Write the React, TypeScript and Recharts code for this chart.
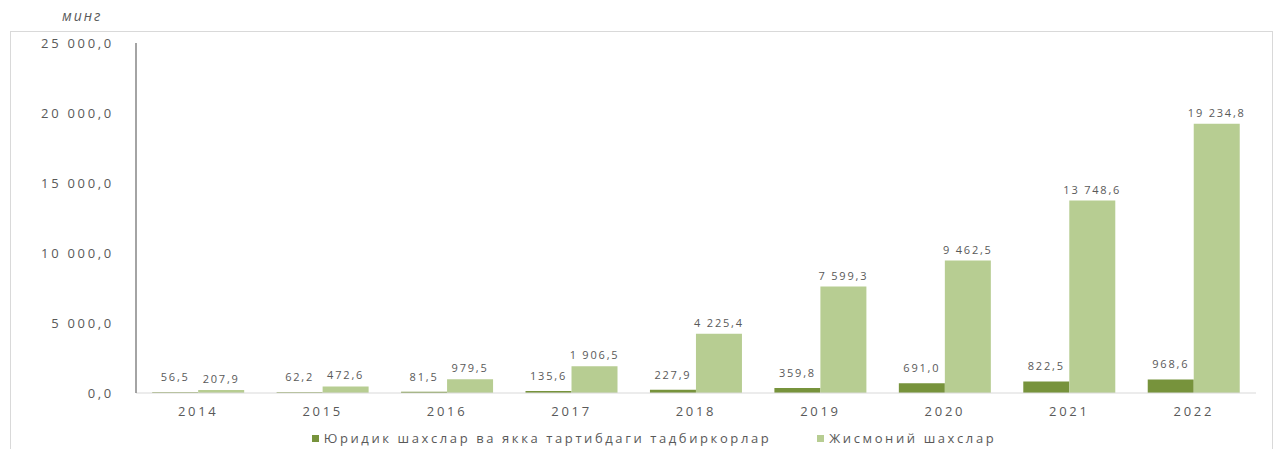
import { BarChart, Bar, XAxis, YAxis, Legend, LabelList } from "recharts"

const years = ["2014", "2015", "2016", "2017", "2018", "2019", "2020", "2021", "2022"]
const legalEntities = [56.5, 62.2, 81.5, 135.6, 227.9, 359.8, 691.0, 822.5, 968.6]
const individuals = [207.9, 472.6, 979.5, 1906.5, 4225.4, 7599.3, 9462.5, 13748.6, 19234.8]
const yTicks = [0, 5000, 10000, 15000, 20000, 25000]

const seriesNames = ["Юридик шахслар ва якка тартибдаги тадбиркорлар", "Жисмоний шахслар"]
const DARK = "#77933C"
const LIGHT = "#B7CD92"
const TEXT = "#595959"
const FONT = "'Open Sans', sans-serif"

const data = years.map((year, i) => ({ year, legal: legalEntities[i], people: individuals[i] }))

// 19234.8 -> "19 234,8" (non-breaking space so labels don't wrap)
const fmt = (v: number) => {
  const [int, dec] = Number(v).toFixed(1).split(".")
  return int.replace(/\B(?=(\d{3})+(?!\d))/g, "\u00A0") + "," + dec
}

const tickStyle = { fontSize: 13, fill: TEXT, fontFamily: FONT, letterSpacing: 2.7 }
const labelStyle = { fontSize: 11, fill: TEXT, fontFamily: FONT, letterSpacing: 1.8 }

function LegendContent() {
  return (
    <div style={{ display: "flex", justifyContent: "center", gap: 46, fontFamily: FONT, fontSize: 13, letterSpacing: 2.6, color: TEXT, paddingTop: 6, paddingLeft: 52 }}>
      {seriesNames.map((name, i) => (
        <div key={name} style={{ display: "flex", alignItems: "center", gap: 5 }}>
          <div style={{ width: 7, height: 7, backgroundColor: i === 0 ? DARK : LIGHT }} />
          <span>{name}</span>
        </div>
      ))}
    </div>
  )
}

export default function App() {
  return (
    <div style={{ position: "absolute", left: 0, top: 0, width: 1277, height: 449, background: "#fff", overflow: "hidden" }}>
      {/* frame */}
      <div style={{ position: "absolute", left: 10, top: 31, width: 1261, height: 430, borderTop: "1px solid #D9D9D9", borderLeft: "1px solid #D9D9D9", borderRight: "1px solid #D9D9D9" }} />
      <div style={{ position: "absolute", left: 62, top: 6, fontFamily: FONT, fontStyle: "italic", fontSize: 14, color: TEXT, letterSpacing: 2 }}>
        минг
      </div>
      <div style={{ position: "absolute", left: 0, top: 0 }}>
        <BarChart width={1277} height={449} data={data} margin={{ top: 43, right: 21, bottom: 0, left: 0 }} barCategoryGap="13%" barGap={0}>
          <XAxis dataKey="year" height={30} axisLine={{ stroke: "#D9D9D9" }} tickLine={false} tickMargin={8} tick={tickStyle} />
          <YAxis width={136} domain={[0, 25000]} ticks={yTicks} tickFormatter={fmt} axisLine={{ stroke: "#868686", strokeWidth: 1.5 }}
            tickLine={false} tickSize={0} tickMargin={22} tick={tickStyle} />
          <Legend verticalAlign="bottom" height={26} content={() => <LegendContent />} />
          <Bar dataKey="legal" name={seriesNames[0]} fill={DARK} isAnimationActive={false}>
            <LabelList dataKey="legal" position="top" offset={11} formatter={(v: any) => fmt(v)} style={labelStyle} />
          </Bar>
          <Bar dataKey="people" name={seriesNames[1]} fill={LIGHT} isAnimationActive={false}>
            <LabelList dataKey="people" position="top" offset={7} formatter={(v: any) => fmt(v)} style={labelStyle} />
          </Bar>
        </BarChart>
      </div>
    </div>
  )
}
